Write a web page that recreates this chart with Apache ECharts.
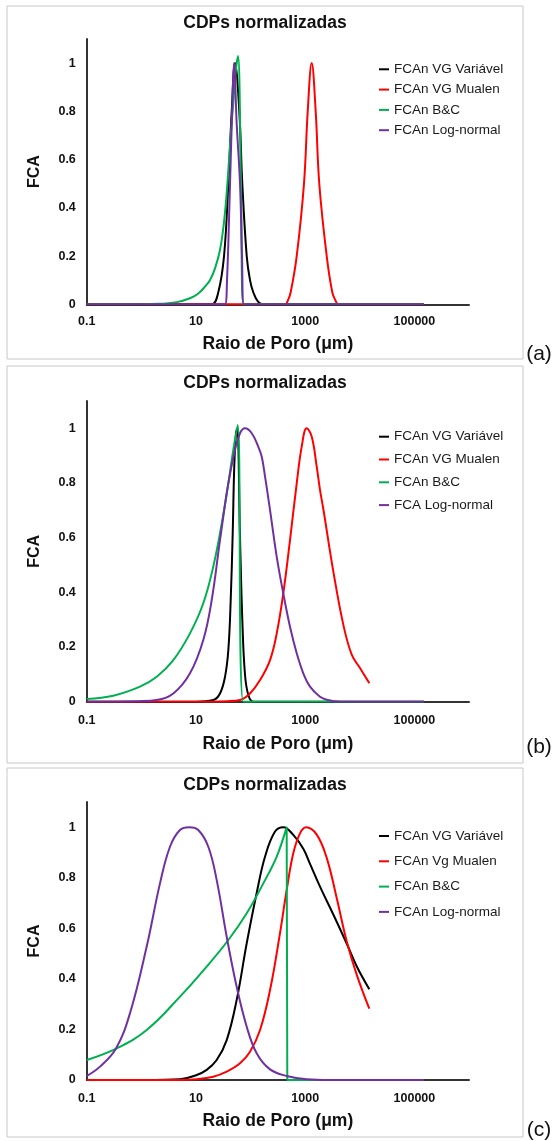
<!DOCTYPE html>
<html>
<head>
<meta charset="utf-8">
<script src="https://cdn.jsdelivr.net/npm/echarts@6/dist/echarts.min.js"></script>
<style>
  html, body { margin: 0; padding: 0; background: #fff; }
  #chart { width: 553px; height: 1141px; }
</style>
</head>
<body>
<div id="chart"></div>
<script>
// ---- data: pore radius (um) and normalized FCA ----
const xTickLabels = ['0.1', '10', '1000', '100000'];
const yTickLabels = ['0', '0.2', '0.4', '0.6', '0.8', '1'];

// (a)
const rA_var = [0.1, 10, 19.4, 25.6, 32.6, 39.1, 45.1, 51.8, 62.1, 70.5, 84.9, 97.5, 112, 138, 171, 300, 150000];
const fA_var = [0, 0, 0, 0.05, 0.2, 0.5, 0.8, 1.0, 0.8, 0.5, 0.2, 0.1, 0.05, 0.01, 0, 0, 0];
const rA_mua = [0.1, 100, 427, 480, 542, 699, 950, 1112, 1315, 1556, 1811, 2477, 3133, 3600, 4036, 10000, 150000];
const fA_mua = [0, 0, 0, 0.015, 0.05, 0.2, 0.5, 0.8, 1.0, 0.8, 0.5, 0.2, 0.05, 0.015, 0, 0, 0];
const rA_bc = [0.1, 0.5, 2, 4.43, 7.76, 10.9, 14.6, 18.0, 22.3, 27.5, 32.6, 37.4, 43.2, 48.2, 54, 58.8, 66.7, 74.1, 150000];
const fA_bc = [0, 0, 0.002, 0.009, 0.025, 0.044, 0.073, 0.1, 0.149, 0.225, 0.342, 0.493, 0.70, 0.837, 0.975, 1.03, 0.5, 0, 0];
const rA_ln = [0.1, 30, 34, 37, 42, 46.6, 49.7, 55.6, 64, 69.6, 75.7, 150000];
const fA_ln = [0, 0, 0, 0.1, 0.5, 0.85, 1.0, 0.75, 0.5, 0.2, 0, 0];

// (b)
const rB_var = [0.1, 10, 20.7, 27.5, 34, 39.1, 43.2, 47, 50.2, 54, 57, 64, 70.5, 78.9, 90.8, 112, 150000];
const fB_var = [0, 0, 0.006, 0.03, 0.091, 0.189, 0.372, 0.616, 0.86, 0.982, 1.0, 0.6, 0.3, 0.1, 0.025, 0, 0];
const rB_mua = [0.1, 10, 36.5, 64, 97.5, 149, 227, 301, 397, 527, 699, 863, 1064, 1315, 1625, 1866, 2148, 3273, 4989, 7112, 10085, 14930];
const fB_mua = [0, 0, 0.002, 0.006, 0.03, 0.079, 0.152, 0.25, 0.396, 0.591, 0.799, 0.933, 1.0, 0.97, 0.86, 0.775, 0.705, 0.477, 0.282, 0.172, 0.123, 0.068];
const rB_bc = [0.1, 0.305, 0.942, 1.91, 3.84, 7.76, 13.6, 20.7, 29.6, 39.1, 48.2, 58, 73.5, 150000];
const fB_bc = [0.01, 0.022, 0.055, 0.091, 0.152, 0.25, 0.36, 0.494, 0.652, 0.799, 0.921, 1.012, 0, 0];
const rB_ln = [0.1, 0.942, 1.91, 3.84, 7.76, 13.6, 19.4, 27.5, 39.1, 51.8, 64, 78.9, 105, 138, 160, 184, 227, 301, 397, 527, 699, 923, 1225, 1866, 2477, 4335, 150000];
const fB_ln = [0, 0.002, 0.006, 0.03, 0.104, 0.226, 0.372, 0.591, 0.799, 0.921, 0.982, 1.0, 0.982, 0.933, 0.896, 0.823, 0.701, 0.53, 0.396, 0.274, 0.177, 0.104, 0.055, 0.018, 0.007, 0, 0];

// (c)
const rC_var = [0.1, 1.25, 5.09, 10.3, 15.7, 23.9, 36.5, 55.6, 84.9, 129, 184, 280, 397, 605, 923, 1225, 1866, 3273, 5754, 8770, 14930];
const fC_var = [0, 0, 0.003, 0.02, 0.04, 0.079, 0.158, 0.317, 0.541, 0.739, 0.884, 0.983, 1.0, 0.97, 0.915, 0.855, 0.765, 0.655, 0.54, 0.45, 0.359];
const rC_mua = [0.1, 5.09, 10.3, 20.7, 36.5, 64, 97.5, 149, 227, 345, 458, 605, 803, 1035, 1625, 2477, 3776, 5754, 8770, 14930];
const fC_mua = [0, 0, 0.003, 0.013, 0.033, 0.066, 0.112, 0.198, 0.356, 0.58, 0.752, 0.897, 0.976, 1.0, 0.971, 0.879, 0.72, 0.549, 0.417, 0.282];
const rC_bc = [0.1, 0.353, 1.25, 5.09, 15.7, 39.1, 84.9, 171, 301, 458, 470, 150000];
const fC_bc = [0.079, 0.125, 0.198, 0.33, 0.449, 0.554, 0.66, 0.778, 0.884, 1.0, 0, 0];
const rC_ln = [0.1, 0.1745, 0.343, 0.618, 1.25, 2.19, 3.34, 5.09, 7.54, 11.0, 16.8, 23.9, 36.5, 55.6, 84.9, 129, 227, 458, 1064, 2844, 150000];
const fC_ln = [0.016, 0.053, 0.125, 0.264, 0.528, 0.778, 0.923, 0.989, 1.0, 0.989, 0.923, 0.792, 0.567, 0.369, 0.211, 0.106, 0.042, 0.016, 0.003, 0, 0];

const colors = { black: '#000000', red: '#ff0000', green: '#00b050', purple: '#7030a0' };

const panels = [
  { tag: '(a)', box: [7, 6, 516, 353], top: 39, height: 265.3, legendTop: 57.3, legendGap: 6.3, labelMargin: 11, nameGap: 30.5, tagY: 354,
    series: [
      ['FCAn VG Variável', rA_var, fA_var, colors.black],
      ['FCAn VG Mualen', rA_mua, fA_mua, colors.red],
      ['FCAn B&C', rA_bc, fA_bc, colors.green],
      ['FCAn Log-normal', rA_ln, fA_ln, colors.purple]
    ] },
  { tag: '(b)', box: [7, 366, 516, 397], top: 401, height: 300.7, legendTop: 424.7, legendGap: 8.8, labelMargin: 12, nameGap: 33.5, tagY: 747,
    series: [
      ['FCAn VG Variável', rB_var, fB_var, colors.black],
      ['FCAn VG Mualen', rB_mua, fB_mua, colors.red],
      ['FCAn B&C', rB_bc, fB_bc, colors.green],
      ['FCA Log-normal', rB_ln, fB_ln, colors.purple]
    ] },
  { tag: '(c)', box: [7, 768, 516, 369], top: 802, height: 278, legendTop: 824, legendGap: 11.3, labelMargin: 12, nameGap: 32, tagY: 1130,
    series: [
      ['FCAn VG Variável', rC_var, fC_var, colors.black],
      ['FCAn Vg Mualen', rC_mua, fC_mua, colors.red],
      ['FCAn B&C', rC_bc, fC_bc, colors.green],
      ['FCAn Log-normal', rC_ln, fC_ln, colors.purple]
    ] }
];

const font = 'Liberation Sans, Arial, sans-serif';
const axisColor = '#333';

const grid = [], xAxis = [], yAxis = [], legend = [], series = [], graphic = [];

panels.forEach((p, i) => {
  grid.push({ left: 86.8, right: 84, top: p.top, height: p.height });

  xAxis.push({
    type: 'log', logBase: 10, gridIndex: i, min: 0.1, max: 1000000,
    name: 'Raio de Poro (μm)', nameLocation: 'middle', nameGap: p.nameGap,
    nameTextStyle: { fontFamily: font, fontWeight: 'bold', fontSize: 17.5, color: '#111' },
    axisLine: { lineStyle: { color: axisColor, width: 2 } },
    axisTick: { show: false }, minorTick: { show: false },
    splitLine: { show: false }, minorSplitLine: { show: false },
    axisLabel: {
      margin: p.labelMargin, fontFamily: font, fontWeight: 'bold', fontSize: 12.5, color: '#111',
      showMinLabel: true, showMaxLabel: true,
      formatter: v => {
        const s = String(v);
        return xTickLabels.includes(s) ? s : '';
      }
    }
  });

  yAxis.push({
    type: 'value', gridIndex: i, min: 0, max: 1.1, interval: 0.2,
    name: 'FCA', nameLocation: 'middle', nameGap: 44,
    nameTextStyle: { fontFamily: font, fontWeight: 'bold', fontSize: 16, color: '#111' },
    axisLine: { show: true, lineStyle: { color: axisColor, width: 2 } },
    axisTick: { show: false }, splitLine: { show: false },
    axisLabel: {
      margin: 11, fontFamily: font, fontWeight: 'bold', fontSize: 12.5, color: '#111',
      formatter: v => {
        const s = String(Math.round(v * 10) / 10);
        return yTickLabels.includes(s) ? s : '';
      }
    }
  });

  legend.push({
    orient: 'vertical', left: 374, top: p.legendTop, itemGap: p.legendGap,
    icon: 'rect', itemWidth: 10, itemHeight: 2,
    textStyle: { fontFamily: font, fontSize: 13.5, color: '#1a1a1a', lineHeight: 14 },
    data: p.series.map(s => s[0])
  });

  p.series.forEach(([name, r, f, color]) => {
    series.push({
      name, type: 'line', xAxisIndex: i, yAxisIndex: i,
      data: r.map((x, k) => [x, f[k]]),
      showSymbol: false, symbol: 'none', smooth: 0.4,
      lineStyle: { color, width: 2 }, itemStyle: { color },
      z: 2
    });
  });

  graphic.push({
    type: 'rect', shape: { x: p.box[0], y: p.box[1], width: p.box[2], height: p.box[3] },
    style: { fill: 'none', stroke: '#c8c8c8', lineWidth: 1 }, z: -1
  });
  graphic.push({
    type: 'text', style: { x: 265, y: p.box[1] + 17.5, text: 'CDPs normalizadas', align: 'center', verticalAlign: 'middle',
      font: 'bold 17.5px ' + font, fill: '#111' }
  });
  graphic.push({
    type: 'text', style: { x: 539, y: p.tagY, text: p.tag, align: 'center', verticalAlign: 'middle',
      font: '21px ' + font, fill: '#111' }
  });
});

const chart = echarts.init(document.getElementById('chart'));
chart.setOption({
  animation: false,
  backgroundColor: '#fff',
  grid, xAxis, yAxis, legend, series, graphic
});
</script>
</body>
</html>
